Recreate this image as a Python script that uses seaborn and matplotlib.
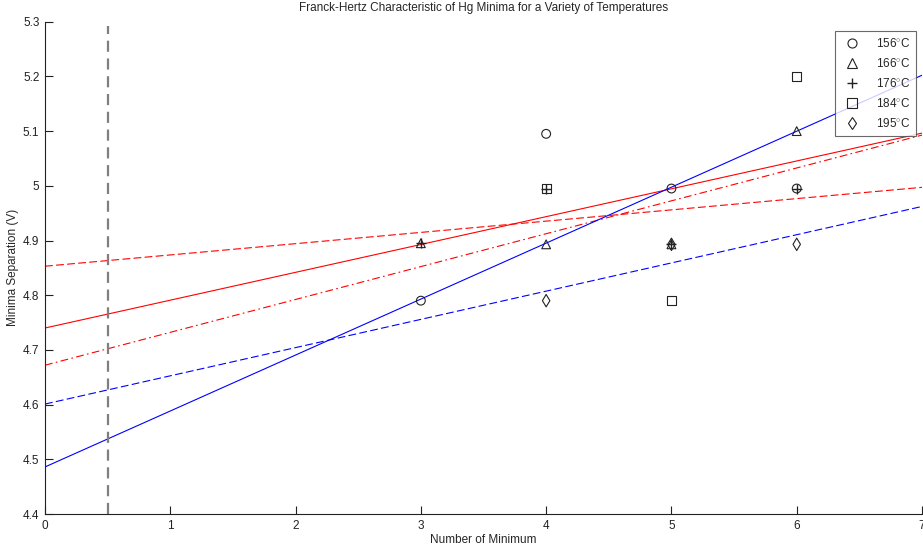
import numpy as np
import pandas as pd
import matplotlib
matplotlib.use("Agg")
import matplotlib.pyplot as plt
import seaborn as sns
from matplotlib.lines import Line2D

sns.set_style("ticks")
plt.rcParams['font.family'] = ['Liberation Sans', 'DejaVu Sans']
plt.rcParams['mathtext.fontset'] = 'custom'
plt.rcParams['mathtext.rm'] = 'Liberation Sans'

# ---- data ----
labels = ["156$^{\\circ}$C", "166$^{\\circ}$C", "176$^{\\circ}$C", "184$^{\\circ}$C", "195$^{\\circ}$C"]
x_156 = [3, 4, 5, 6]
y_156 = [4.79, 5.095, 4.995, 4.995]
x_166 = [3, 4, 5, 6]
y_166 = [4.895, 4.893, 4.893, 5.10]
x_176 = [3, 4, 5, 6]
y_176 = [4.895, 4.995, 4.893, 4.995]
x_184 = [4, 5, 6]
y_184 = [4.995, 4.79, 5.20]
x_195 = [4, 5, 6]
y_195 = [4.79, 4.893, 4.893]
# linear fits (intercept, slope)
fit_intercepts = [4.740, 4.672, 4.853, 4.486, 4.601]
fit_slopes = [0.0509, 0.0601, 0.0206, 0.1023, 0.0516]
cutoff_x = 0.5

xs = [x_156, x_166, x_176, x_184, x_195]
ys = [y_156, y_166, y_176, y_184, y_195]
markers = ["o", "^", "+", "s", "d"]
line_colors = ["#ff0000", "#ff0000", "#ff0000", "#0000ff", "#0000ff"]
line_styles = ["-", (0, (7, 3, 1.5, 3)), (0, (7, 3)), "-", (0, (7, 3))]

fig = plt.figure(figsize=(9.23, 5.44), dpi=100)
ax = fig.add_axes([45 / 923, 1 - 514 / 544, 877 / 923, (514 - 21.7) / 544])

xlim = (0, 7)
xx = np.array([xlim[0], xlim[1] + 0.5])
for b0, b1, c, ls in zip(fit_intercepts, fit_slopes, line_colors, line_styles):
    sns.lineplot(x=xx, y=b0 + b1 * xx, ax=ax, color=c, linestyle=ls, linewidth=0.8)

ax.axvline(cutoff_x, ymin=0, ymax=0.992, color="#7f7f7f", linestyle=(0, (5, 3)), linewidth=1.6)

handles = []
for x, y, m, lab in zip(xs, ys, markers, labels):
    df = pd.DataFrame({"x": x, "y": y})
    if m == "+":
        sns.scatterplot(data=df, x="x", y="y", marker=m, color="#222222", s=45,
                        linewidth=1.0, ax=ax, zorder=5)
        h = Line2D([], [], marker=m, color="#222222", linestyle="none", markersize=7, markeredgewidth=1.0)
    else:
        sns.scatterplot(data=df, x="x", y="y", marker=m, facecolor="none", edgecolor="#222222",
                        s=40, linewidth=0.8, ax=ax, zorder=5)
        h = Line2D([], [], marker=m, markerfacecolor="none", markeredgecolor="#222222",
                   linestyle="none", markersize=6.5, markeredgewidth=0.8)
    handles.append(h)

ax.set_xlim(*xlim)
ax.set_ylim(4.4, 5.3)
ax.set_xticks(range(0, 8))
ax.set_yticks(np.round(np.arange(4.4, 5.31, 0.1), 1))
ax.set_yticklabels(["4.4", "4.5", "4.6", "4.7", "4.8", "4.9", "5", "5.1", "5.2", "5.3"])
ax.tick_params(direction="in", length=6, width=0.8, labelsize=8.5, colors="#222222", pad=4)
for s in ["top", "right"]:
    ax.spines[s].set_visible(False)
for s in ["left", "bottom"]:
    ax.spines[s].set_color("#222222")
    ax.spines[s].set_linewidth(0.8)

ax.set_xlabel("Number of Minimum", fontsize=8.5, labelpad=2)
ax.set_ylabel("Minima Separation (V)", fontsize=8.5)
ax.yaxis.set_label_coords((19 - 45) / 877, 0.5)
ax.set_title("Franck-Hertz Characteristic of Hg Minima for a Variety of Temperatures", fontsize=8.5, pad=8)

leg = ax.legend(handles, labels, loc="upper right",
                bbox_to_anchor=((916 - 45) / 877, 1 - (31 - 21.7) / 492.3),
                fontsize=8.5, frameon=True, fancybox=False, borderpad=0.5, labelspacing=0.6,
                handletextpad=1.0, handlelength=2.0, borderaxespad=0)
leg.get_frame().set_edgecolor("#444444")
leg.get_frame().set_linewidth(0.8)

fig.savefig("out.png", dpi=100)
